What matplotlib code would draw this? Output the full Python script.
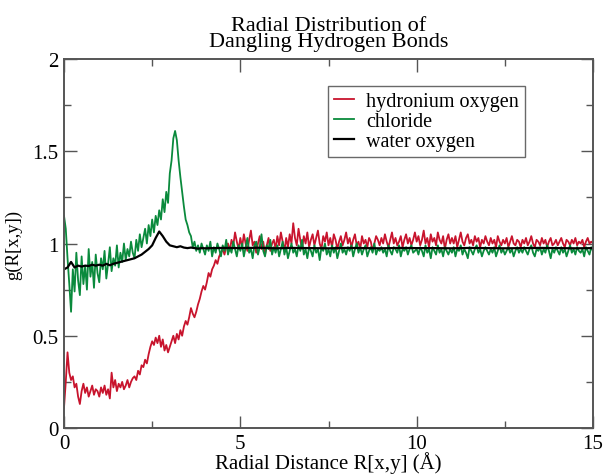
import numpy as np
import matplotlib
matplotlib.use("Agg")
import matplotlib.pyplot as plt
from matplotlib.ticker import MultipleLocator

# ---------------- data ----------------
step = 0.05
hydronium = [
    0.11, 0.25, 0.41, 0.30, 0.26, 0.28, 0.22, 0.24, 0.17, 0.13, 0.20, 0.24, 0.19, 0.22, 0.17, 0.20, 0.23, 0.18, 0.21, 0.20,
    0.17, 0.22, 0.19, 0.23, 0.18, 0.21, 0.16, 0.30, 0.22, 0.26, 0.20, 0.24, 0.22, 0.25, 0.21, 0.23, 0.26, 0.22, 0.25, 0.27,
    0.28, 0.26, 0.31, 0.29, 0.34, 0.33, 0.37, 0.35, 0.40, 0.44, 0.47, 0.45, 0.49, 0.46, 0.50, 0.44, 0.48, 0.42, 0.45, 0.41,
    0.44, 0.47, 0.50, 0.46, 0.51, 0.48, 0.53, 0.50, 0.55, 0.58, 0.56, 0.60, 0.65, 0.62, 0.60, 0.63, 0.67, 0.70, 0.74, 0.77,
    0.75, 0.79, 0.84, 0.82, 0.86, 0.88, 0.91, 0.89, 0.93, 0.95, 0.97, 0.94, 0.98, 1.00, 0.96, 1.02, 0.99, 1.06, 1.01, 0.97,
    1.03, 0.98, 1.05, 1.00, 0.96, 1.02, 1.07, 0.99, 1.01, 0.95, 1.00, 1.04, 0.97, 1.01, 0.94, 0.99, 1.03, 0.96, 1.00, 1.02,
    0.97, 1.04, 0.99, 1.06, 1.01, 0.96, 1.03, 0.98, 1.05, 1.00, 1.11, 1.03, 0.99, 1.08, 1.02, 0.97, 1.04, 1.00, 1.06, 0.98,
    1.02, 1.05, 0.99, 1.03, 1.07, 1.00, 0.97, 1.04, 1.01, 1.06, 0.99, 1.03, 0.98, 1.05, 1.02, 0.97, 1.01, 1.04, 0.99, 1.02,
    1.06, 1.00, 1.03, 0.98, 1.02, 1.05, 0.99, 1.01, 0.97, 1.04, 1.00, 1.02, 0.98, 1.03, 1.01, 0.96, 1.00, 1.04, 1.02, 0.99,
    1.03, 1.00, 1.05, 1.01, 0.98, 1.02, 1.06, 1.00, 1.03, 0.99, 1.01, 1.04, 0.98, 1.02, 1.05, 1.00, 1.03, 0.99, 1.02, 1.06,
    1.01, 1.04, 0.99, 1.02, 1.07, 1.00, 1.03, 0.98, 1.05, 1.01, 1.03, 0.99, 1.06, 1.02, 1.00, 1.04, 0.97, 1.02, 1.05, 1.00,
    1.03, 1.00, 1.04, 0.98, 1.02, 1.06, 1.01, 0.99, 1.03, 1.05, 1.00, 1.02, 0.99, 1.04, 1.01, 1.03, 0.98, 1.02, 1.00, 1.04,
    1.01, 0.99, 1.03, 1.00, 1.02, 0.98, 1.04, 1.01, 0.99, 1.02, 1.00, 1.03, 0.98, 1.01, 1.04, 1.00, 0.99, 1.02, 1.01, 0.98,
    1.02, 1.00, 1.03, 0.99, 1.01, 1.04, 1.00, 0.98, 1.02, 1.01, 0.99, 1.03, 1.00, 1.02, 0.98, 1.01, 1.03, 0.99, 1.00, 1.02,
    0.99, 1.01, 1.03, 1.00, 0.98, 1.02, 1.01, 0.99, 1.02, 1.00, 1.03, 0.99, 1.01, 1.00, 1.02, 0.98, 1.01, 1.03, 1.00, 1.01,
    1.00,
]
chloride = [
    1.15, 1.08, 0.92, 0.78, 0.63, 0.86, 0.74, 0.95, 0.80, 0.72, 0.93, 0.78, 0.88, 0.75, 0.97, 0.82, 0.90, 0.76, 0.94, 0.84,
    0.79, 0.92, 0.86, 0.96, 0.81, 0.89, 0.98, 0.85, 0.92, 0.88, 0.99, 0.87, 0.95, 0.90, 1.00, 0.91, 0.97, 0.93, 1.01, 0.95,
    0.92, 1.02, 0.96, 1.05, 0.98, 1.03, 1.08, 1.00, 1.10, 1.04, 1.13, 1.06, 1.15, 1.10, 1.18, 1.13, 1.24, 1.17, 1.28, 1.22,
    1.38, 1.45, 1.57, 1.61, 1.56, 1.45, 1.36, 1.28, 1.20, 1.13, 1.10, 1.06, 1.04, 0.98, 1.01, 0.96, 0.99, 0.95, 1.00, 0.97,
    0.94, 0.99, 0.96, 1.01, 0.93, 0.98, 0.95, 1.00, 0.97, 0.93, 0.99, 0.96, 1.02, 0.94, 0.98, 0.95, 1.01, 0.97, 0.93, 0.99,
    0.96, 1.00, 0.93, 0.98, 1.03, 0.95, 0.97, 0.92, 0.99, 1.01, 0.94, 0.98, 1.05, 0.96, 0.93, 0.99, 0.97, 1.02, 0.94, 0.98,
    0.95, 0.99, 0.93, 0.97, 1.01, 0.94, 0.98, 0.92, 0.96, 1.00, 0.95, 0.97, 0.93, 0.99, 0.96, 1.02, 0.94, 0.97, 0.92, 0.98,
    0.96, 0.93, 0.99, 0.95, 0.97, 0.91, 0.98, 0.96, 1.00, 0.94, 0.97, 0.93, 0.99, 0.95, 0.98, 0.92, 0.96, 1.00, 0.95, 0.97,
    0.94, 0.98, 0.96, 0.99, 0.93, 0.97, 1.00, 0.95, 0.98, 0.94, 0.97, 0.99, 0.93, 0.96, 0.98, 0.95, 1.00, 0.94, 0.97, 0.96,
    0.98, 0.95, 0.97, 0.93, 0.99, 0.96, 0.94, 0.98, 0.97, 0.95, 0.99, 0.93, 0.97, 0.96, 0.98, 0.94, 0.97, 0.99, 0.95, 0.96,
    0.97, 0.94, 0.98, 0.96, 0.93, 0.99, 0.95, 0.97, 0.92, 0.98, 0.96, 0.94, 0.99, 0.95, 0.97, 0.93, 0.98, 0.96, 0.94, 0.97,
    0.95, 0.98, 0.93, 0.97, 0.96, 0.99, 0.94, 0.97, 0.95, 0.92, 0.98, 0.96, 0.94, 0.97, 0.99, 0.95, 0.97, 0.93, 0.96, 0.98,
    0.96, 0.94, 0.97, 0.95, 0.98, 0.93, 0.96, 0.99, 0.95, 0.97, 0.94, 0.96, 0.98, 0.95, 0.97, 0.93, 0.96, 0.98, 0.95, 0.97,
    0.95, 0.98, 0.96, 0.94, 0.97, 0.99, 0.95, 0.93, 0.97, 0.96, 0.98, 0.94, 0.97, 0.95, 0.99, 0.96, 0.92, 0.97, 0.95, 0.98,
    0.96, 0.94, 0.98, 0.95, 0.97, 0.93, 0.96, 0.99, 0.95, 0.97, 0.94, 0.98, 0.96, 0.95, 0.97, 0.93, 0.98, 0.96, 0.94, 0.98,
    0.96,
]
water_r = [0.0, 0.1, 0.2, 0.3, 0.4, 0.5, 0.6, 0.7, 0.8, 0.9, 1.0, 1.1, 1.2, 1.3, 1.4, 1.5, 1.6, 1.7, 1.8, 1.9,
           2.0, 2.1, 2.2, 2.3, 2.4, 2.5, 2.6, 2.7, 2.8, 2.9, 3.0, 3.1, 3.2, 3.3, 3.4, 3.5, 3.6, 3.7, 3.8, 3.9,
           4.0, 4.5, 5.0, 5.5, 6.0, 6.5, 7.0, 7.5, 8.0, 8.5, 9.0, 9.5, 10.0, 10.5, 11.0, 11.5, 12.0, 12.5,
           13.0, 13.5, 14.0, 14.5, 15.0]
water = [0.86, 0.87, 0.90, 0.87, 0.88, 0.875, 0.88, 0.878, 0.885, 0.88, 0.885, 0.88, 0.89, 0.882, 0.89, 0.895,
         0.90, 0.905, 0.91, 0.915, 0.92, 0.93, 0.94, 0.955, 0.97, 0.99, 1.03, 1.065, 1.04, 1.01, 0.99, 0.985,
         0.98, 0.985, 0.978, 0.975, 0.978, 0.975, 0.972, 0.975, 0.974, 0.976, 0.975, 0.977, 0.974, 0.976,
         0.975, 0.974, 0.976, 0.975, 0.974, 0.976, 0.975, 0.975, 0.974, 0.976, 0.975, 0.974, 0.975, 0.976,
         0.975, 0.974, 0.975]

labels = ["hydronium oxygen", "chloride", "water oxygen"]
colors = ["#c8142d", "#0a8a3c", "#000000"]

r = np.arange(len(hydronium)) * step

# ---------------- plot ----------------
plt.rcParams['font.family'] = ['Liberation Serif', 'DejaVu Serif']
fig = plt.figure(figsize=(6.05, 4.77), dpi=100)
ax = fig.add_axes([64 / 605, 1 - 429 / 477, (593 - 64) / 605, (429 - 60) / 477])

ax.plot(r, hydronium, color=colors[0], lw=1.3, label=labels[0])
ax.plot(r, chloride, color=colors[1], lw=1.3, label=labels[1])
ax.plot(water_r, water, color=colors[2], lw=1.6, label=labels[2])

ax.set_xlim(0, 15)
ax.set_ylim(0, 2)
ax.xaxis.set_major_locator(MultipleLocator(5))
ax.xaxis.set_minor_locator(MultipleLocator(2.5))
ax.yaxis.set_major_locator(MultipleLocator(0.5))
ax.yaxis.set_minor_locator(MultipleLocator(0.25))
ax.set_yticks([0, 0.5, 1, 1.5, 2])
ax.set_yticklabels(["0", "0.5", "1", "1.5", "2"])
ax.tick_params(which='both', direction='in', top=True, right=True, labelsize=15, color='#555555', width=1)
ax.tick_params(which='major', length=9)
ax.tick_params(axis='x', which='major', pad=4)
ax.tick_params(axis='y', which='major', pad=4)
ax.tick_params(which='minor', length=5)
for s in ax.spines.values():
    s.set_color('#555555')
    s.set_linewidth(1.4)

ax.set_xlabel("Radial Distance R[x,y] (Å)", fontsize=15, labelpad=-1)
ax.set_ylabel("g(R[x,y])", fontsize=13.5, labelpad=7)
ax.set_title("Radial Distribution of\nDangling Hydrogen Bonds", fontsize=16, linespacing=0.82, pad=9)

leg = ax.legend(loc='upper left', bbox_to_anchor=((328 - 64) / 529, (429 - 87) / 369),
                frameon=True, fancybox=False, fontsize=14.5, handlelength=1.0, handletextpad=0.6,
                labelspacing=0.05, borderpad=0.3, borderaxespad=0)
leg.get_frame().set_edgecolor('#444444')
leg.get_frame().set_linewidth(1.0)

fig.savefig("out.png", dpi=100)
